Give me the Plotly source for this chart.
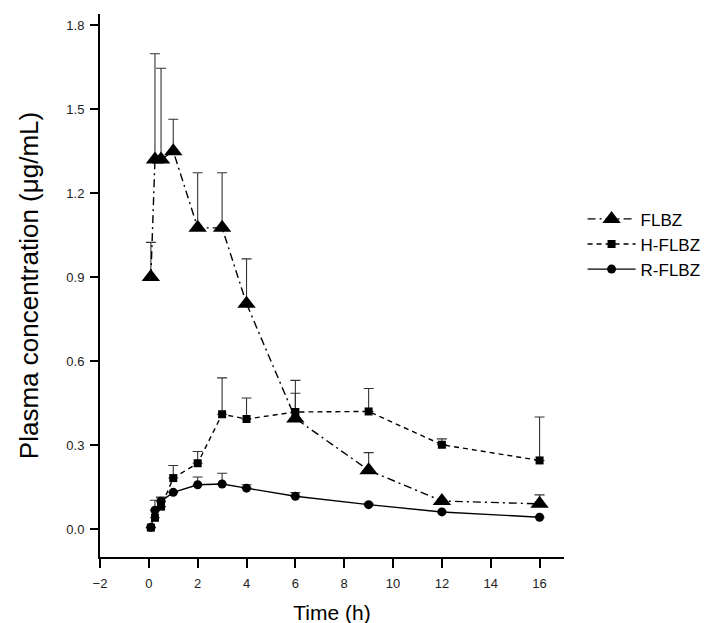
import plotly.graph_objects as go

time_h = [0.083, 0.25, 0.5, 1, 2, 3, 4, 6, 9, 12, 16]

flbz_mean = [0.90, 1.32, 1.32, 1.35, 1.076, 1.076, 0.805, 0.395, 0.21, 0.10, 0.09]
flbz_sd = [0.124, 0.378, 0.326, 0.114, 0.197, 0.197, 0.16, 0.09, 0.063, 0.0, 0.032]

hflbz_mean = [0.005, 0.04, 0.08, 0.182, 0.235, 0.41, 0.393, 0.418, 0.42, 0.301, 0.245]
hflbz_sd = [0.0, 0.0, 0.034, 0.045, 0.042, 0.13, 0.075, 0.113, 0.082, 0.021, 0.155]

rflbz_mean = [0.006, 0.067, 0.099, 0.131, 0.158, 0.161, 0.146, 0.117, 0.087, 0.061, 0.042]
rflbz_sd = [0.0, 0.036, 0.012, 0.0, 0.028, 0.038, 0.012, 0.013, 0.005, 0.0, 0.0]

series = [
    ("FLBZ", flbz_mean, flbz_sd, "triangle-up", 16, "8px,4px,2px,4px"),
    ("H-FLBZ", hflbz_mean, hflbz_sd, "square", 8, "5px,4px"),
    ("R-FLBZ", rflbz_mean, rflbz_sd, "circle", 9, "solid"),
]

fig = go.Figure()
for name, mean, sd, sym, size, dash in series:
    fig.add_trace(go.Scatter(
        x=time_h, y=mean, name=name, mode="lines+markers",
        line=dict(color="black", width=1.4, dash=dash),
        marker=dict(symbol=sym, size=size, color="black"),
        error_y=dict(type="data", symmetric=False, array=sd,
                     arrayminus=[0] * len(sd), color="#333333",
                     thickness=1.1, width=5),
    ))

axis_font = dict(family="Liberation Sans Narrow, Liberation Sans, Arial", size=13, color="#222")

fig.update_layout(
    width=712, height=623,
    margin=dict(l=92, r=156, t=6, b=74),
    paper_bgcolor="white", plot_bgcolor="white",
    showlegend=True,
    legend=dict(x=1.04, y=0.655, xanchor="left", yanchor="top",
                font=dict(family="Liberation Sans Narrow, Liberation Sans, Arial", size=17, color="black"),
                itemwidth=48, tracegroupgap=0, bgcolor="rgba(0,0,0,0)"),
    xaxis=dict(range=[-2, 17], tick0=-2, dtick=2, showline=True, linecolor="black",
               linewidth=2, ticks="outside", ticklen=9, tickwidth=2, tickcolor="black",
               showgrid=False, zeroline=False, tickfont=axis_font, automargin=False,
               ticklabelstandoff=4,
               title=dict(text="Time (h)", font=dict(family="Liberation Sans Narrow, Liberation Sans, Arial", size=21, color="black"), standoff=16)),
    yaxis=dict(range=[-0.1, 1.84], tick0=0, dtick=0.3, tickformat=".1f", showline=True,
               linecolor="black", linewidth=2, ticks="outside", ticklen=8, tickwidth=2,
               tickcolor="black", showgrid=False, zeroline=False, tickfont=axis_font,
               automargin=False, ticklabelstandoff=3,
               title=dict(text="Plasma concentration (μg/mL)", font=dict(family="Liberation Sans, Arial", size=26, color="black"), standoff=20)),
)

fig.write_html("out.html")
